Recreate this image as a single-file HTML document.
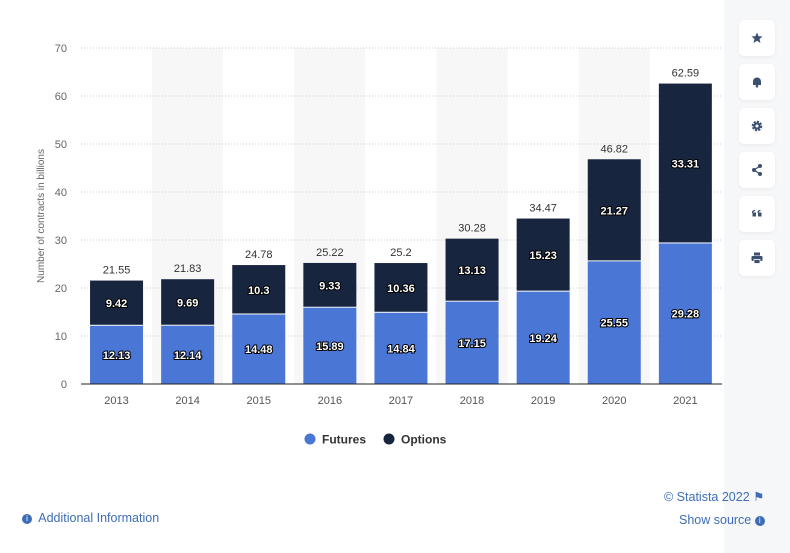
<!DOCTYPE html>
<html><head><meta charset="utf-8"><style>
body{margin:0;width:790px;height:553px;background:#fff;font-family:"Liberation Sans",sans-serif;overflow:hidden;position:relative}
.side{position:absolute;left:724px;top:0;width:66px;height:553px;background:#f6f7f9}
.btn{position:absolute;left:739px;width:36px;height:36px;background:#fff;border-radius:5px;box-shadow:0 1px 3px rgba(0,0,0,.06);display:flex;align-items:center;justify-content:center;color:#3c4f70;font-size:13px}
.foot{position:absolute;font-size:12.5px;color:#3e6db5}
</style></head><body>
<div class="side"></div>
<div class="btn" style="top:20px"><svg width="12" height="12" viewBox="0 0 12 12"><polygon points="6,0.5 7.6,4.2 11.5,4.4 8.5,7 9.5,11 6,8.8 2.5,11 3.5,7 0.5,4.4 4.4,4.2" fill="#3c4f70"/></svg></div>
<div class="btn" style="top:64px"><svg width="12" height="12" viewBox="0 0 12 12"><path d="M2,9 L2,5.5 A4,4 0 0 1 10,5.5 L10,9 Z" fill="#3c4f70"/><circle cx="6" cy="10.2" r="1.3" fill="#3c4f70"/></svg></div>
<div class="btn" style="top:108px"><svg width="12" height="12" viewBox="0 0 12 12"><circle cx="6" cy="6" r="4" fill="none" stroke="#3c4f70" stroke-width="2.6" stroke-dasharray="2,1.1"/><circle cx="6" cy="6" r="3.6" fill="#3c4f70"/><circle cx="6" cy="6" r="1.5" fill="#fff"/></svg></div>
<div class="btn" style="top:152px"><svg width="12" height="12" viewBox="0 0 12 12"><line x1="9" y1="2" x2="3" y2="6" stroke="#3c4f70" stroke-width="1.3"/><line x1="9" y1="10" x2="3" y2="6" stroke="#3c4f70" stroke-width="1.3"/><circle cx="9" cy="2" r="2" fill="#3c4f70"/><circle cx="3" cy="6" r="2" fill="#3c4f70"/><circle cx="9" cy="10" r="2" fill="#3c4f70"/></svg></div>
<div class="btn" style="top:196px"><svg width="12" height="12" viewBox="0 0 12 12"><rect x="1.5" y="4.5" width="3.5" height="4" fill="#3c4f70"/><rect x="7" y="4.5" width="3.5" height="4" fill="#3c4f70"/><path d="M1.5,5 Q1.5,2.5 4,2.5" stroke="#3c4f70" stroke-width="1.3" fill="none"/><path d="M7,5 Q7,2.5 9.5,2.5" stroke="#3c4f70" stroke-width="1.3" fill="none"/></svg></div>
<div class="btn" style="top:240px"><svg width="12" height="12" viewBox="0 0 12 12"><rect x="3" y="0.5" width="6" height="3" fill="#3c4f70"/><rect x="0.5" y="4" width="11" height="5" rx="1" fill="#3c4f70"/><rect x="3" y="7.5" width="6" height="4" fill="#3c4f70" stroke="#fff" stroke-width="0.8"/></svg></div>
<svg id="chart" width="790" height="553" style="position:absolute;left:0;top:0"></svg>
<div class="foot" style="left:22px;top:511px"><span style="display:inline-block;width:10px;height:10px;border-radius:50%;background:#3e6db5;color:#fff;font-size:8px;text-align:center;line-height:10px;vertical-align:1px">i</span>&nbsp; Additional Information</div>
<div class="foot" style="left:664px;top:489px">© Statista 2022 ⚑</div>
<div class="foot" style="left:679px;top:513px">Show source <span style="display:inline-block;width:10px;height:10px;border-radius:50%;background:#3e6db5;color:#fff;font-size:8px;text-align:center;line-height:10px;vertical-align:1px">i</span></div>
<script>
const years=["2013","2014","2015","2016","2017","2018","2019","2020","2021"];
const futures=[12.13,12.14,14.48,15.89,14.84,17.15,19.24,25.55,29.28];
const options=[9.42,9.69,10.3,9.33,10.36,13.13,15.23,21.27,33.31];
const totals=["21.55","21.83","24.78","25.22","25.2","30.28","34.47","46.82","62.59"];
const yTicks=[0,10,20,30,40,50,60,70];
const svg=document.getElementById('chart');const NS="http://www.w3.org/2000/svg";
const x0=81,band=71.1,bw=53,yBase=384,yTop=48,yMax=70;
const y=v=>yBase-(yBase-yTop)*v/yMax;
const bx=i=>x0+band*i+band/2;
function mk(t,a,txt){const e=document.createElementNS(NS,t);for(const k in a)e.setAttribute(k,a[k]);if(txt!==undefined)e.textContent=txt;svg.appendChild(e);return e;}
years.forEach((yr,i)=>{if(i%2===1){const r=mk('rect',{x:x0+band*i,y:yTop,width:band,height:yBase-yTop,fill:'#f7f7f7'});

}});
yTicks.forEach(t=>{if(t>0){const l=mk('line',{x1:x0,x2:722,y1:y(t),y2:y(t),stroke:'#ccc','stroke-dasharray':'1,2'});

}
const tx=mk('text',{x:67,y:y(t)+4,'text-anchor':'end','font-size':11,fill:'#666'},t);

});
const yt=mk('text',{transform:'translate(44,216) rotate(-90)','text-anchor':'middle','font-size':10,fill:'#666'},'Number of contracts in billions');


years.forEach((yr,i)=>{const cx=bx(i);
const f=mk('rect',{x:cx-bw/2,y:y(futures[i]),width:bw,height:yBase-y(futures[i]),fill:'#4a76d6'});


const o=mk('rect',{x:cx-bw/2,y:y(futures[i]+options[i]),width:bw,height:y(futures[i])-y(futures[i]+options[i])-1,fill:'#17253e'});


const lf=mk('text',{x:cx,y:(y(futures[i])+yBase)/2+4,'text-anchor':'middle','font-size':11,'font-weight':'bold',fill:'#fff',stroke:'#000','stroke-width':2,'paint-order':'stroke'},futures[i]);


const lo=mk('text',{x:cx,y:(y(futures[i])+y(futures[i]+options[i]))/2+4,'text-anchor':'middle','font-size':11,'font-weight':'bold',fill:'#fff',stroke:'#000','stroke-width':2,'paint-order':'stroke'},options[i]);


const lt=mk('text',{x:cx,y:y(futures[i]+options[i])-7,'text-anchor':'middle','font-size':11,fill:'#333'},totals[i]);


const xl=mk('text',{x:cx,y:404,'text-anchor':'middle','font-size':11,fill:'#555'},yr);

});
const ax=mk('line',{x1:x0,x2:722,y1:yBase,y2:yBase,stroke:'#222','stroke-width':1});


[['Futures','#4a76d6',310,'legend-futures'],['Options','#17253e',389,'legend-options']].forEach(([n,c,lx,dn])=>{
const g=mk('circle',{cx:lx,cy:439,r:5.5,fill:c});


const t=mk('text',{x:lx+12,y:443.5,'font-size':12,'font-weight':'bold',fill:'#333'},n);

});
</script>
</body></html>
